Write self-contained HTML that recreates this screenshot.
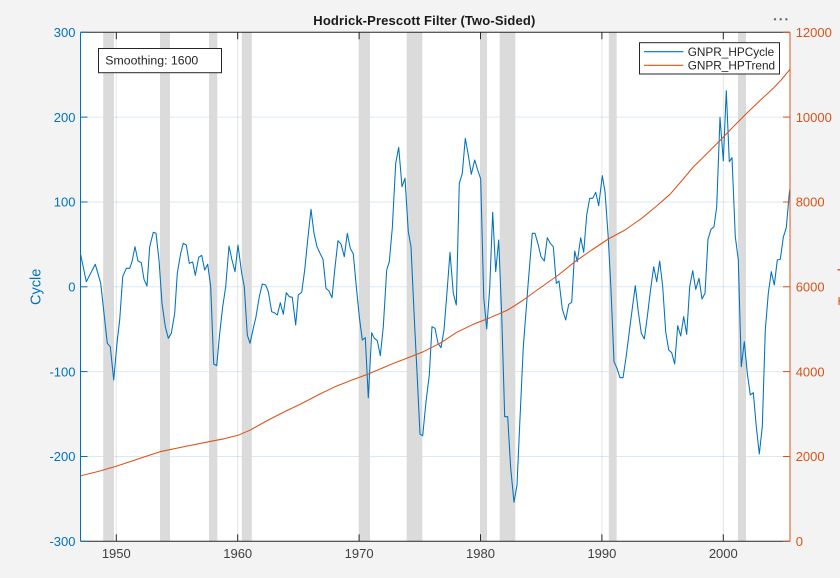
<!DOCTYPE html>
<html>
<head>
<meta charset="utf-8">
<style>
  html,body{margin:0;padding:0;background:#f3f3f3;}
  body{width:840px;height:578px;overflow:hidden;}
  svg{display:block;font-family:"Liberation Sans",Arial,sans-serif;}
</style>
</head>
<body>
<svg width="840" height="578" viewBox="0 0 840 578" xmlns="http://www.w3.org/2000/svg">
  <defs>
    <clipPath id="pa"><rect x="80.5" y="32.3" width="709.5" height="509"/></clipPath>
  </defs>
  <rect x="0" y="0" width="840" height="578" fill="#f3f3f3"/>
  <rect x="80.5" y="32.3" width="709.5" height="509" fill="#ffffff"/>

  <g stroke="#0072BD" stroke-opacity="0.15" stroke-width="1">
    <line x1="80.5" y1="117.1" x2="790" y2="117.1"/>
    <line x1="80.5" y1="202" x2="790" y2="202"/>
    <line x1="80.5" y1="286.8" x2="790" y2="286.8"/>
    <line x1="80.5" y1="371.6" x2="790" y2="371.6"/>
    <line x1="80.5" y1="456.5" x2="790" y2="456.5"/>
  </g>
  <g stroke="#262626" stroke-opacity="0.12" stroke-width="1">
    <line x1="116.3" y1="32.3" x2="116.3" y2="541.3"/>
    <line x1="237.7" y1="32.3" x2="237.7" y2="541.3"/>
    <line x1="359.1" y1="32.3" x2="359.1" y2="541.3"/>
    <line x1="480.5" y1="32.3" x2="480.5" y2="541.3"/>
    <line x1="601.9" y1="32.3" x2="601.9" y2="541.3"/>
    <line x1="723.3" y1="32.3" x2="723.3" y2="541.3"/>
  </g>

  <g fill="#d9d9d9" fill-opacity="0.95">
    <rect x="103.2" y="32.3" width="10.8" height="509"/>
    <rect x="160" y="32.3" width="10" height="509"/>
    <rect x="209" y="32.3" width="8.3" height="509"/>
    <rect x="241.8" y="32.3" width="10" height="509"/>
    <rect x="359" y="32.3" width="11" height="509"/>
    <rect x="406.7" y="32.3" width="15.6" height="509"/>
    <rect x="480" y="32.3" width="7" height="509"/>
    <rect x="499.7" y="32.3" width="15.6" height="509"/>
    <rect x="608.8" y="32.3" width="7.9" height="509"/>
    <rect x="738" y="32.3" width="8" height="509"/>
  </g>

  <g clip-path="url(#pa)" fill="none" stroke-width="1.05" stroke-linejoin="round">
    <polyline stroke="#0072BD" points="79.7,250 86.3,281.7 95.3,264.3 100.7,283.3 104,313.3 107.3,343.3 110.3,346.7 113.7,380 117.3,340 119.7,320 122.7,276.7 126.3,268.3 129.7,268.3 132,261.7 135,246.7 138,261 141.3,262.7 144,279.3 147,286 149.7,246.7 153.3,232.3 156,233.3 159,260 162,303.3 165.3,326.7 168.3,338.3 171.3,333.3 174.7,313.3 177.3,273.3 180.7,253.3 183.3,243.3 186.3,245 189.3,263.3 192.7,262 195.3,275.3 198.7,257.3 201.7,255.3 204.7,270 207.7,264.3 210.7,286.7 213.7,364 216.7,365.7 219.7,333.3 222.7,306.7 225.7,286.7 229,246 232,260 235,271.7 238,245 241.7,273.3 244.3,286.7 247.3,335 250,343.3 253.3,328.3 256,316.7 259.3,296.7 262.3,284 265.7,285 268.3,291.7 271.7,311.7 274.3,312.7 277.3,315 280.3,302.7 283.3,314.3 286.3,292.7 289.3,296.7 292.3,297.3 295.7,325 298.3,295 301.7,292.3 304.7,270 307.7,240 311,209.3 314,233.3 317,246.7 320,253.3 323,259.3 326,288.3 329,291 332,297.7 335,267.3 338,240.7 341,244 344.3,256.7 347.3,233.3 350.3,248.3 353.3,254 356.3,286.7 359.3,316.7 362.3,340 365.3,337.7 368.3,397.7 371.7,332.7 374.3,338.3 377.3,340.7 380.3,355.7 383.3,326.7 386.7,270 389.3,261.7 392.3,228 395.7,163.3 398.7,147.3 402,186.7 405,178.3 408.3,231.7 411,246.7 414.3,318.3 417.3,378.3 420,434.3 422.7,435.7 426,401.7 429.3,375 432,326.7 435,328.3 438,343.3 441,347.7 444,330 447.3,288.3 450,252.3 453.3,293.3 456.3,305 459.3,183.3 462.3,173.3 465.3,138.3 468.3,155 471.3,174.3 474.7,160 477.7,170 480.7,179 483.7,296.7 486.7,329 489.7,288.3 492.7,212.3 495.7,271.7 498.7,240 501.7,315 504.7,416.7 507.7,416.7 510.7,468.3 514,502.3 517,485 520,418.3 523.3,346.7 528.3,281.7 532.3,233.3 535,233.3 538.3,245 541,256.7 544.3,261 547.3,237.7 550.3,243.3 553.3,246.7 556.3,283.3 559,281 562.3,309 565.7,320 568.7,304.3 571.7,302.3 574.7,251 577.3,261.7 580.7,237.7 583.7,252.3 586.7,215 589.7,198.3 592.7,198.3 595.7,192.3 598.7,205.7 602.3,175.7 605,191.7 608.3,238.3 611,290 614,361.7 617,368.3 620,377.7 623,377.7 626,357.7 629.3,331.7 632.3,308.3 635.3,285.7 638.3,311.7 641.3,333.3 644.3,339 647.3,316.7 650.3,291.7 653.7,266.7 656.7,281.7 659.7,261 662.7,286.7 665.7,331.7 668.7,350 671.7,352.7 674.7,364 677.7,325.7 680.7,336 683.7,316.7 686.7,334.3 689.7,286.7 692.7,270.7 695.7,289.3 699,278.3 702,299 705,293.3 708,239.3 711,229.3 714,226.7 716.7,206.7 720,117.3 723.3,161 726.3,90.7 729.3,161.7 732,157.7 735.3,236.7 738.3,260 741.3,366.7 744.3,341.7 747.3,373.3 750.3,395 753.3,392.7 756.3,426.7 759.3,454 762.3,426.7 765.3,330 768.3,293.3 771.3,271.7 774.3,285 777.3,260 780.3,259.3 783.3,237.3 786.3,227.7 789.3,193.3 790.5,185"/>
    <polyline stroke="#D95319" points="80,476 98,471.5 116.3,466.3 138,459 160,451.7 185,446.5 209,441.7 224,438.8 238,435.3 250,430.2 268.3,420 285,411.5 301.7,403.5 318,395 335,386.7 352,380 368.3,374 395,362.7 410,357 423.3,351.7 440,343.3 456.7,332.3 473.3,324.3 490,317.7 506.7,310.5 515,305.5 523.3,300 540,288 558.3,275 575,261.7 591.7,250 608.3,239 625,230 641.7,218.3 656,206.5 670,194.3 682,180.5 693.3,167 707,153.5 720,140.5 733,127 746.7,113.3 760,100.5 773.3,88.3 782,79 790,69.3"/>
  </g>

  <line x1="80.5" y1="32.3" x2="790" y2="32.3" stroke="#262626" stroke-width="1"/>
  <line x1="80.5" y1="541.3" x2="790" y2="541.3" stroke="#262626" stroke-width="1"/>
  <line x1="80.5" y1="32.3" x2="80.5" y2="541.3" stroke="#0072BD" stroke-width="1"/>
  <line x1="790" y1="32.3" x2="790" y2="541.3" stroke="#D95319" stroke-width="1"/>

  <g stroke="#262626" stroke-width="1">
    <line x1="116.3" y1="541.3" x2="116.3" y2="534.3"/>
    <line x1="237.7" y1="541.3" x2="237.7" y2="534.3"/>
    <line x1="359.1" y1="541.3" x2="359.1" y2="534.3"/>
    <line x1="480.5" y1="541.3" x2="480.5" y2="534.3"/>
    <line x1="601.9" y1="541.3" x2="601.9" y2="534.3"/>
    <line x1="723.3" y1="541.3" x2="723.3" y2="534.3"/>
    <line x1="116.3" y1="32.3" x2="116.3" y2="39.3"/>
    <line x1="237.7" y1="32.3" x2="237.7" y2="39.3"/>
    <line x1="359.1" y1="32.3" x2="359.1" y2="39.3"/>
    <line x1="480.5" y1="32.3" x2="480.5" y2="39.3"/>
    <line x1="601.9" y1="32.3" x2="601.9" y2="39.3"/>
    <line x1="723.3" y1="32.3" x2="723.3" y2="39.3"/>
  </g>
  <g stroke="#0072BD" stroke-width="1">
    <line x1="80.5" y1="32.3" x2="87.5" y2="32.3"/>
    <line x1="80.5" y1="117.1" x2="87.5" y2="117.1"/>
    <line x1="80.5" y1="202" x2="87.5" y2="202"/>
    <line x1="80.5" y1="286.8" x2="87.5" y2="286.8"/>
    <line x1="80.5" y1="371.6" x2="87.5" y2="371.6"/>
    <line x1="80.5" y1="456.5" x2="87.5" y2="456.5"/>
    <line x1="80.5" y1="541.3" x2="87.5" y2="541.3"/>
  </g>
  <g stroke="#D95319" stroke-width="1">
    <line x1="783" y1="32.3" x2="790" y2="32.3"/>
    <line x1="783" y1="117.1" x2="790" y2="117.1"/>
    <line x1="783" y1="202" x2="790" y2="202"/>
    <line x1="783" y1="286.8" x2="790" y2="286.8"/>
    <line x1="783" y1="371.6" x2="790" y2="371.6"/>
    <line x1="783" y1="456.5" x2="790" y2="456.5"/>
    <line x1="783" y1="541.3" x2="790" y2="541.3"/>
  </g>

  <g fill="#0072BD" font-size="13" text-anchor="end">
    <text x="75.5" y="37">300</text>
    <text x="75.5" y="121.8">200</text>
    <text x="75.5" y="206.7">100</text>
    <text x="75.5" y="291.5">0</text>
    <text x="75.5" y="376.3">-100</text>
    <text x="75.5" y="461.2">-200</text>
    <text x="75.5" y="546">-300</text>
  </g>
  <g fill="#D95319" font-size="13" text-anchor="start">
    <text x="795.7" y="37">12000</text>
    <text x="795.7" y="121.8">10000</text>
    <text x="795.7" y="206.7">8000</text>
    <text x="795.7" y="291.5">6000</text>
    <text x="795.7" y="376.3">4000</text>
    <text x="795.7" y="461.2">2000</text>
    <text x="795.7" y="546">0</text>
  </g>
  <g fill="#404040" font-size="13" text-anchor="middle">
    <text x="116.3" y="558">1950</text>
    <text x="237.7" y="558">1960</text>
    <text x="359.1" y="558">1970</text>
    <text x="480.5" y="558">1980</text>
    <text x="601.9" y="558">1990</text>
    <text x="723.3" y="558">2000</text>
  </g>

  <text x="40.6" y="286.8" fill="#0072BD" font-size="14.5" text-anchor="middle" transform="rotate(-90 40.6 286.8)">Cycle</text>
  <text x="848.5" y="286.8" fill="#D95319" font-size="14.5" text-anchor="middle" transform="rotate(-90 848.5 286.8)">Trend</text>

  <text x="313.3" y="25" fill="#1a1a1a" font-size="13" font-weight="bold" textLength="222" lengthAdjust="spacing">Hodrick-Prescott  Filter  (Two-Sided)</text>

  <g fill="#666666">
    <circle cx="775" cy="19.3" r="1.2"/>
    <circle cx="780.7" cy="19.3" r="1.2"/>
    <circle cx="786.4" cy="19.3" r="1.2"/>
  </g>

  <rect x="98.5" y="48.5" width="123" height="24.2" fill="#ffffff" stroke="#262626" stroke-width="1"/>
  <text x="105.3" y="64.6" fill="#262626" font-size="12.3">Smoothing: 1600</text>

  <rect x="639.5" y="42.7" width="140" height="31.3" fill="#ffffff" stroke="#262626" stroke-width="1"/>
  <line x1="644" y1="51.7" x2="683.3" y2="51.7" stroke="#0072BD" stroke-width="1.1"/>
  <line x1="644" y1="65.3" x2="683.3" y2="65.3" stroke="#D95319" stroke-width="1.1"/>
  <g fill="#262626" font-size="11.8">
    <text x="687.7" y="56">GNPR_HPCycle</text>
    <text x="687.7" y="69.6">GNPR_HPTrend</text>
  </g>
</svg>
</body>
</html>
